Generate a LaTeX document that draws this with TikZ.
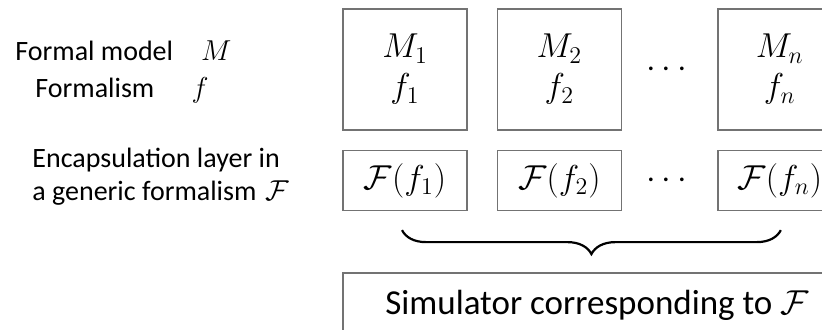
\documentclass[tikz,border=0pt]{standalone}
\usepackage{fontspec}
\setmainfont{Carlito}
\usepackage{amsmath}
\usepackage{amssymb}
\usetikzlibrary{positioning,calc,decorations.pathreplacing}

\begin{document}
\begin{tikzpicture}[
    x=0.5pt, y=-0.5pt,
    model/.style = {rectangle, draw=black!55, line width=0.7pt, minimum width=62pt, minimum height=60.5pt, inner sep=0pt, align=center, font=\fontsize{17.5}{20}\selectfont},
    encap/.style = {rectangle, draw=black!55, line width=0.7pt, minimum width=62pt, minimum height=30pt, inner sep=0pt, font=\fontsize{17.5}{20}\selectfont},
    dots/.style = {font=\fontsize{17.5}{20}\selectfont, inner sep=0pt},
    lbl/.style = {anchor=base west, inner sep=0pt, font=\fontsize{14}{18.5}\selectfont},
    node distance = 14.5pt
]
\useasboundingbox (0,0) rectangle (822,329);
\clip (0,0) rectangle (822,329);

% top row: models and formalisms
\node[model] (m1) at (405,69.5) {$M_1$\\$f_1$};
\node[model, right=of m1] (m2) {$M_2$\\$f_2$};
\node[model, right=47.5pt of m2] (mn) {$M_n$\\$f_n$};
\node[dots] (mdots) at ($(m2.east)!0.5!(mn.west)$) {$\cdots$};

% encapsulation row
\node[encap, below=9.5pt of m1] (ff1) {$\mathcal{F}(f_1)$};
\node[encap, below=9.5pt of m2] (ff2) {$\mathcal{F}(f_2)$};
\node[encap, below=9.5pt of mn] (ffn) {$\mathcal{F}(f_n)$};
\node[dots] (ffdots) at ($(ff2.east)!0.5!(ffn.west)$) {$\cdots$};

% brace
\coordinate (bl) at ([xshift=-1.5pt, yshift=-9.5pt]ff1.south);
\coordinate (br) at ([xshift=0.5pt, yshift=-9.5pt]ffn.south);
\draw[line width=1.1pt, decorate, decoration={brace, mirror, amplitude=12pt}] (bl) -- (br);

% simulator
\node[rectangle, draw=black!55, line width=0.7pt, anchor=north west, minimum width=254pt, minimum height=33pt,
      font=\fontsize{17.5}{20}\selectfont] (sim) at ([yshift=-30.5pt]ff1.south west) {Simulator corresponding to $\mathcal{F}$};

% left labels
\node[lbl] (formal) at (15,60) {Formal model\quad$M$};
\node[lbl] (formalism) at (35,97) {Formalism\quad\,\,$f$};
\node[lbl] (encapl) at (32,167) {Encapsulation layer in};
\node[lbl] (generic) at (32,200) {a generic formalism\,\,$\mathcal{F}$};
\end{tikzpicture}
\end{document}
